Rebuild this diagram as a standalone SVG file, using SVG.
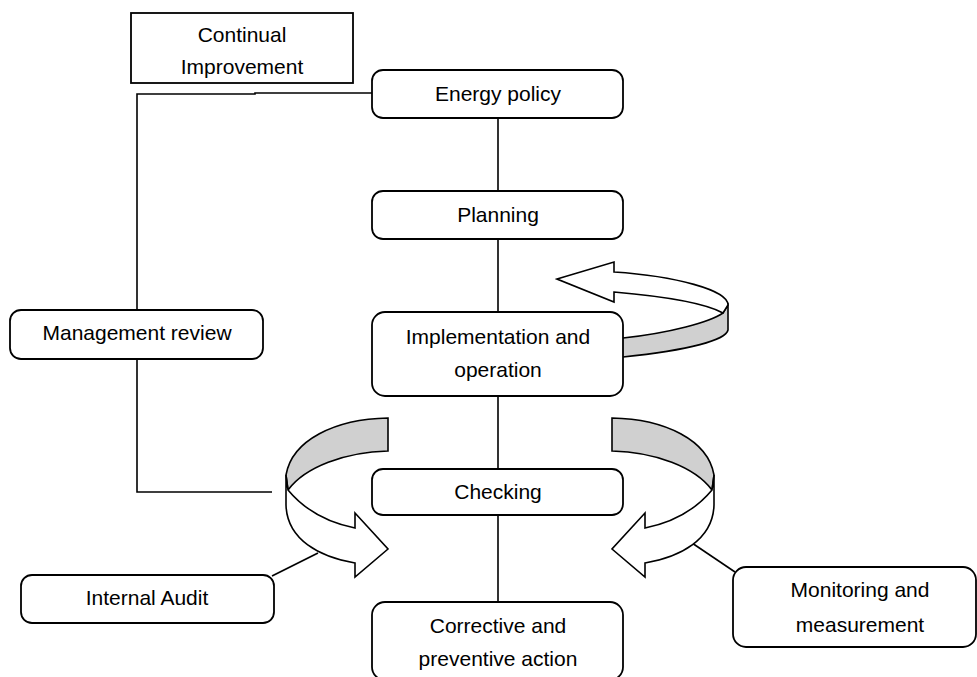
<svg xmlns="http://www.w3.org/2000/svg" width="977" height="677" viewBox="0 0 977 677">
<style>
.box{fill:#fff;stroke:#000;stroke-width:1.8}
.ln{fill:none;stroke:#000;stroke-width:1.6}
.arw{fill:#fff;stroke:#000;stroke-width:1.6;stroke-linejoin:miter}
.gry{fill:#d0d0d0;stroke:#000;stroke-width:1.6}
text{font-family:"Liberation Sans",Arial,sans-serif;font-size:21px;fill:#000;text-anchor:middle}
</style>
<rect width="977" height="677" fill="#fff"/>
<g id="connectors">
<path class="ln" d="M137,310 V94 H255 V93 H372"/>
<path class="ln" d="M137,359 V492 H272"/>
<path class="ln" d="M498,118 V191 M498,239 V312 M498,396 V469 M498,515 V602"/>
<path class="ln" d="M272,576 L318,553"/>
<path class="ln" d="M692,543 L735,572"/>
</g>
<g id="arrow-top">
<path class="gry" d="M723,313 C710,322 670,333 623,338 L600,340 L600,360 L623,357 C690,350 726,340 728,330 L728,305 Z"/>
<path class="arw" d="M557,279 L614,262 L614,272 C675,276 728,290 728,305 L723,313 C705,303 660,296 614,292 L614,302 Z"/>
</g>
<g id="arrow-left">
<path class="gry" d="M388,418 C335,419 292,440 286,475 L288,490 C305,467 345,452 388,451 Z"/>
<path class="arw" d="M288,490 C303,508 325,522 355,528 L355,513 L388,549 L355,577 L355,563 C320,557 287,540 286,505 L286,475 Z"/>
</g>
<g id="arrow-right" transform="translate(1000,0) scale(-1,1)">
<path class="gry" d="M388,418 C335,419 292,440 286,475 L288,490 C305,467 345,452 388,451 Z"/>
<path class="arw" d="M288,490 C303,508 325,522 355,528 L355,513 L388,549 L355,577 L355,563 C320,557 287,540 286,505 L286,475 Z"/>
</g>
<g id="continual-improvement">
<rect class="box" x="131" y="13" width="222" height="70"/>
<text x="242" y="42">Continual</text>
<text x="242" y="74">Improvement</text>
</g>
<g id="energy-policy">
<rect class="box" x="372" y="70" width="251" height="48" rx="11"/>
<text x="498" y="101">Energy policy</text>
</g>
<g id="planning">
<rect class="box" x="372" y="191" width="251" height="48" rx="11"/>
<text x="498" y="222">Planning</text>
</g>
<g id="implementation">
<rect class="box" x="372" y="312" width="251" height="84" rx="13"/>
<text x="498" y="344">Implementation and</text>
<text x="498" y="377">operation</text>
</g>
<g id="checking">
<rect class="box" x="372" y="469" width="251" height="46" rx="11"/>
<text x="498" y="499">Checking</text>
</g>
<g id="corrective">
<rect class="box" x="372" y="602" width="251" height="78" rx="13"/>
<text x="498" y="633">Corrective and</text>
<text x="498" y="666">preventive action</text>
</g>
<g id="management-review">
<rect class="box" x="10" y="310" width="253" height="49" rx="11"/>
<text x="137" y="340">Management review</text>
</g>
<g id="internal-audit">
<rect class="box" x="21" y="575" width="253" height="48" rx="11"/>
<text x="147" y="605">Internal Audit</text>
</g>
<g id="monitoring">
<rect class="box" x="733" y="567" width="243" height="80" rx="13"/>
<text x="860" y="597">Monitoring and</text>
<text x="860" y="632">measurement</text>
</g>
</svg>
